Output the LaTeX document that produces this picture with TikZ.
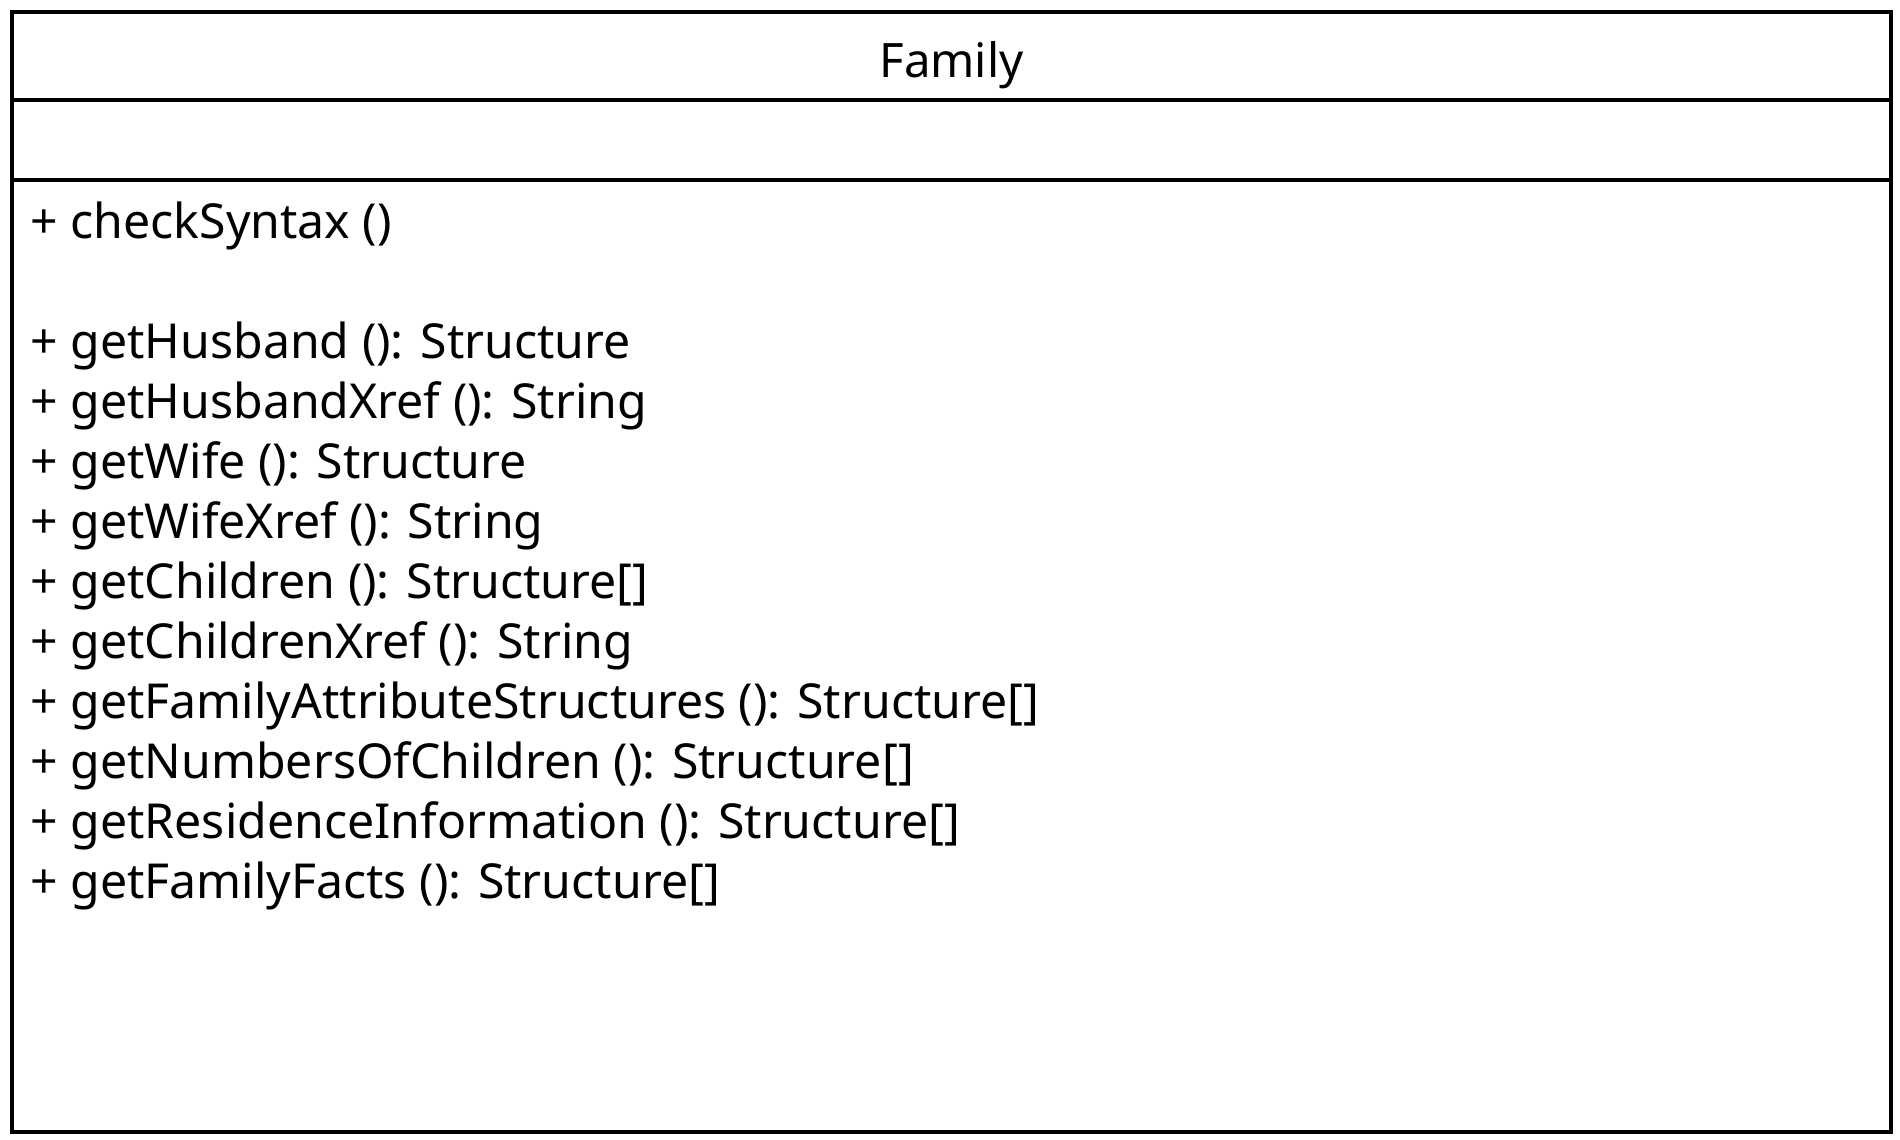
\documentclass[tikz,border=0pt]{standalone}
\usepackage{fontspec}
\setmainfont{Noto Sans}
\usepackage{tikz}
\usetikzlibrary{positioning}
\tikzset{
    %Define style for the class frame
    classbox/.style={
           draw=black,
           line width=2pt},
    %Define style for the class name
    classname/.style={
           inner sep=0pt,
           anchor=base,
           font=\fontsize{23.7}{29}\selectfont},
    %Define style for the member lines
    member/.style={
           inner sep=0pt,
           outer sep=0pt,
           anchor=north west,
           text height=21pt,
           text depth=9pt,
           font=\fontsize{24.1}{30}\selectfont}
}

\begin{document}
\begin{tikzpicture}[x=0.5pt,y=-0.5pt]
\useasboundingbox (0,0) rectangle (1900,1140);
 %frame
\draw[classbox] (12,12) rectangle (1891,1132);
\draw[classbox] (12,99.5) -- (1891,99.5);
\draw[classbox] (12,180) -- (1891,180);
 %nodes
\node[classname](name) at (951.5,77){Family};
\node[member](m1) at (30.5,196){+ checkSyntax ()};
\node[member, below=30pt of m1.south west, anchor=north west](m2){+ getHusband (): Structure};
\node[member, below=0pt of m2.south west, anchor=north west](m3){+ getHusbandXref (): String};
\node[member, below=0pt of m3.south west, anchor=north west](m4){+ getWife (): Structure};
\node[member, below=0pt of m4.south west, anchor=north west](m5){+ getWifeXref (): String};
\node[member, below=0pt of m5.south west, anchor=north west](m6){+ getChildren (): Structure[]};
\node[member, below=0pt of m6.south west, anchor=north west](m7){+ getChildrenXref (): String};
\node[member, below=0pt of m7.south west, anchor=north west](m8){+ getFamilyAttributeStructures (): Structure[]};
\node[member, below=0pt of m8.south west, anchor=north west](m9){+ getNumbersOfChildren (): Structure[]};
\node[member, below=0pt of m9.south west, anchor=north west](m10){+ getResidenceInformation (): Structure[]};
\node[member, below=0pt of m10.south west, anchor=north west](m11){+ getFamilyFacts (): Structure[]};
\end{tikzpicture}
\end{document}
